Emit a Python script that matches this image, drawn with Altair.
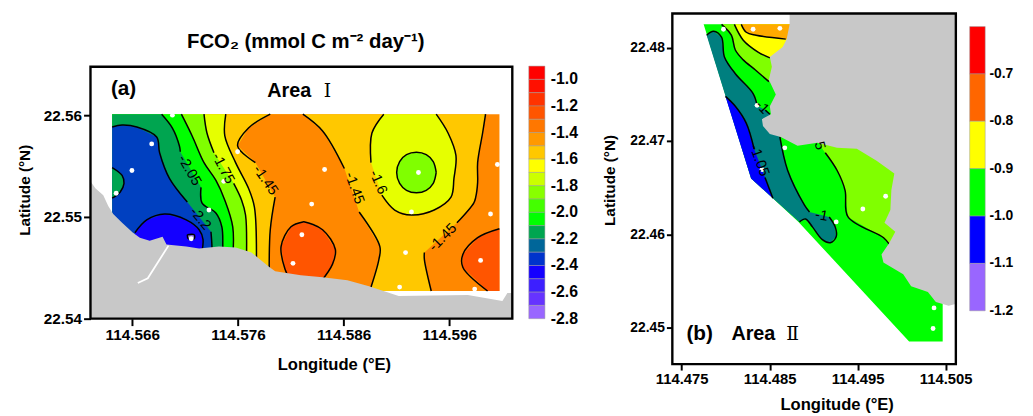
import altair as alt

FONT = "Liberation Sans"

# All curve values: (longitude offset, latitude offset), in units of 0.0001 degree
# Panel (a): offsets from 114.56 E / 22.54 N.  Panel (b): offsets from 114.47 E / 22.44 N.
A_LON0, A_LAT0 = 114.56, 22.54
B_LON0, B_LAT0 = 114.47, 22.44

# ---------- Panel (a) ----------
a_xlim = (20.5, 419.6)
a_ylim = (0.0, 300.0)
a_frame_top = 247.6
a_rect = [(41.0, 201.0), (407.4, 201.0), (407.4, 27.2), (41.0, 27.2)]
a_coast = [(20.5, 135.0), (25.1, 128.2), (32.6, 121.4), (37.3, 110.7), (42.0, 102.9), (50.4, 94.2),
           (60.7, 84.5), (67.2, 79.6), (76.5, 76.7), (88.7, 80.6), (92.4, 72.8), (111.1, 70.9),
           (123.3, 68.9), (142.0, 70.9), (157.9, 69.9), (172.8, 65.0), (188.7, 51.5), (195.2, 46.6),
           (219.5, 42.7), (240.1, 40.8), (263.5, 37.9), (284.0, 32.0), (312.1, 22.3), (377.5, 23.3),
           (410.2, 17.5), (414.9, 25.2), (419.6, 25.2), (419.6, 0.0), (20.5, 0.0)]
a_river = [(94.3, 71.8), (74.7, 39.8), (65.3, 35.0)]
a_c1a = [(41.0, 188.4), (50.4, 190.3), (64.4, 188.4), (83.1, 178.6), (85.9, 163.1), (95.2, 137.9), (112.1, 114.6)]
a_c1b = [(134.5, 85.4), (135.4, 71.8), (135.4, 60.0)]
a_c3a = [(87.8, 201.0), (98.0, 187.4), (104.6, 169.9), (105.5, 164.1)]
a_c3b = [(125.1, 129.1), (126.1, 113.6), (139.1, 103.9), (144.8, 90.3), (145.7, 71.8), (145.7, 60.0)]
a_c4 = [(106.5, 201.0), (116.7, 179.6), (127.9, 153.4), (139.2, 135.9), (147.6, 116.5), (155.1, 90.3), (155.1, 60.0)]
a_c5a = [(127.9, 201.0), (130.7, 182.5), (137.3, 163.1)]
a_c5b = [(156.0, 133.0), (163.5, 116.5), (167.2, 101.9), (168.1, 60.0)]
a_c6 = [(148.5, 201.0), (147.6, 179.6), (157.8, 153.4), (170.0, 128.2), (175.6, 109.7), (177.5, 55.0)]
a_c7a = [(190.6, 201.0), (170.0, 187.4), (159.7, 169.9), (176.5, 153.4)]
a_c7b = [(195.2, 119.4), (190.6, 87.4), (189.6, 45.0)]
a_c8 = [(209.3, 38.0), (204.6, 48.5), (200.8, 70.9), (210.2, 90.3), (221.4, 95.1), (223.3, 95.1),
        (240.1, 87.4), (252.2, 68.0), (249.4, 53.4), (238.2, 36.0)]
a_c9a = [(221.4, 201.0), (240.1, 184.5), (260.7, 147.6)]
a_c9b = [(274.7, 104.9), (294.3, 70.9), (293.4, 58.3), (284.0, 25.0)]
a_c10a = [(298.0, 201.0), (286.8, 182.5), (285.9, 153.4)]
a_c10b = [(296.2, 121.4), (308.3, 106.8), (324.2, 101.9), (345.7, 106.8), (361.6, 119.4), (364.4, 137.9),
          (366.3, 160.2), (358.8, 182.5), (347.6, 201.0)]
a_c11 = [(347.6, 143.7), (344.8, 133.0), (338.2, 126.2), (328.9, 123.8), (319.5, 126.2), (313.0, 133.0),
         (310.2, 143.7), (313.0, 154.4), (319.5, 161.2), (328.9, 163.6), (338.2, 161.2), (344.8, 154.4),
         (347.6, 143.7)]
a_c12a = [(394.3, 201.0), (391.5, 182.5), (386.8, 153.4), (386.8, 134.0), (385.0, 119.4), (383.1, 113.6), (367.2, 94.2)]
a_c12b = [(336.4, 65.0), (336.4, 58.3), (342.9, 27.2)]
a_c13 = [(407.4, 88.4), (386.8, 79.6), (372.8, 63.1), (372.8, 50.5), (396.2, 27.2)]
a_c2 = [(62.5, 84.5), (73.7, 97.1), (90.6, 102.9), (111.1, 97.1), (123.3, 87.4), (127.0, 77.7), (125.1, 62.0)]
a_dot = [(112.1, 82.5), (118.6, 82.5), (118.6, 78.6), (113.0, 78.6), (112.1, 82.5)]
a_patch = [(41.0, 148.5), (50.4, 140.8), (52.2, 133.0), (48.5, 124.3), (41.0, 118.4)]
a_points = [(98.0, 200.0), (78.4, 171.8), (59.7, 145.6), (44.8, 123.3), (146.6, 135.0), (159.7, 164.1),
            (132.6, 106.8), (115.8, 78.6), (220.5, 82.5), (212.1, 54.4), (242.0, 146.6), (330.8, 143.7),
            (405.5, 151.5), (229.8, 112.6), (324.2, 104.9), (399.0, 102.9), (318.6, 65.0), (389.6, 57.3),
            (313.0, 31.1), (384.0, 29.1)]
a_labels = [("-2.05", 114.0, 145.7, 60), ("-2.2", 124.2, 98.1, 50), ("-1.75", 145.7, 147.6, 62),
            ("-1.45", 185.9, 135.9, 55), ("-1.45", 270.0, 128.2, 70), ("-1.6", 292.4, 134.0, 66),
            ("-1.45", 354.1, 79.6, 315)]
a_texts = [("FCO\u2082 (mmol C m\u207b\u00b2 day\u207b\u00b9)", 224.2, 271.9, 0, 20.6),
           ("(a)", 51.8, 225.2, 0, 21), ("Area", 208.6, 223.3, 0, 20),
           ("Longitude (\u00b0E)", 251.3, -45.7, 0, 16.8), ("Latitude (\u00b0N)", -41.2, 126.2, 270, 15.5)]
a_numerals = [("\u2160", 244.7, 223.3, 0, 19)]

# ---------- Panel (b) ----------
b_xlim = (39.4, 361.6)
b_ylim = (61.2, 436.5)
b_sea = [(75.0, 424.8), (129.0, 259.9), (153.7, 238.8), (182.9, 213.4), (308.7, 85.5), (346.9, 85.5), (346.9, 424.8)]
b_l1 = [(95.3, 424.8), (106.5, 413.2), (111.0, 397.4), (120.0, 386.8), (133.5, 376.2), (149.2, 363.5)]
b_l2 = [(109.9, 424.8), (120.0, 407.9), (136.8, 395.2), (150.3, 388.9)]
b_l3 = [(117.7, 424.8), (123.4, 416.4), (134.6, 413.2), (168.3, 409.0)]
b_t1 = [(78.4, 413.2), (86.3, 417.4), (95.3, 411.1), (98.6, 390.0), (111.0, 372.0), (131.2, 350.8), (135.7, 338.2)]
b_t2 = [(145.0, 333.0), (150.3, 328.6)]
b_t3 = [(161.6, 304.3), (170.5, 268.4), (189.6, 231.4), (195.3, 224.0)]
b_t4 = [(217.7, 218.7), (224.5, 208.1), (225.6, 197.6), (218.9, 191.2), (209.9, 194.4), (198.6, 208.1),
        (190.8, 216.6), (184.0, 213.4)]
b_blue_a = [(99.8, 347.7), (111.0, 337.1), (123.4, 319.1), (132.3, 291.6)]
b_blue_b = [(144.7, 261.0), (153.7, 238.8)]
b_lime = [(213.2, 287.4), (226.7, 268.4), (235.7, 247.2), (239.1, 218.7), (279.5, 196.5), (286.3, 189.1)]
b_coast = [(172.8, 436.5), (172.8, 424.8), (169.4, 409.0), (164.9, 400.5), (150.3, 390.0), (152.6, 379.4),
           (149.2, 365.6), (157.1, 349.8), (150.3, 337.1), (151.5, 328.6), (141.3, 323.4), (142.5, 316.0),
           (150.3, 307.5), (162.7, 304.3), (181.8, 294.8), (204.3, 298.0), (226.7, 292.7), (249.2, 291.6),
           (271.7, 279.0), (291.9, 265.2), (288.5, 247.2), (287.4, 226.1), (280.7, 212.4), (293.0, 202.8),
           (286.3, 191.2), (277.3, 178.5), (279.5, 170.1), (302.0, 157.4), (311.0, 144.7), (330.1, 138.4),
           (339.1, 127.8), (353.7, 123.6), (361.6, 125.7), (361.6, 436.5)]
b_points = [(97.5, 419.6), (131.2, 419.6), (161.6, 420.6), (135.7, 338.2), (167.2, 292.7), (141.3, 269.4),
            (281.8, 240.9), (255.9, 227.2), (225.6, 213.4), (336.8, 121.4), (335.7, 99.3)]
b_labels = [("-1.05", 137.9, 279.0, 70), ("-1", 141.3, 336.0, 45), ("-1", 208.8, 219.8, 10), ("5", 206.5, 294.8, 75)]
b_texts = [("(b)", 70.5, 92.9, 0, 21), ("Area", 131.5, 92.9, 0, 20),
           ("Longitude (\u00b0E)", 226.7, 17.9, 0, 16.8), ("Latitude (\u00b0N)", -31.7, 257.8, 270, 15.5)]
b_numerals = [("\u2161", 176.2, 92.9, 0, 19)]

# ---------- Colour bars ----------
cb_a_edges = [-0.9, -1.0, -1.1, -1.2, -1.3, -1.4, -1.5, -1.6, -1.7, -1.8, -1.9, -2.0, -2.1, -2.2, -2.3, -2.4, -2.5, -2.6, -2.7, -2.8]
cb_a_colors = ["#FF0000", "#FF1000", "#FF3300", "#FF5500", "#FF7700", "#FF9900", "#FFC800", "#FFFF00", "#CCFF00", "#88FF00",
               "#44FF00", "#00FF00", "#00A550", "#006699", "#0033CC", "#1400FF", "#3D1FFF", "#6633FF", "#9966FF"]
cb_a_labels = [-1.0, -1.2, -1.4, -1.6, -1.8, -2.0, -2.2, -2.4, -2.6, -2.8]
cb_b_edges = [-0.6, -0.7, -0.8, -0.9, -1.0, -1.1, -1.2]
cb_b_colors = ["#FF0000", "#FF6600", "#FFFF00", "#00FF00", "#0000FF", "#9966FF"]
cb_b_labels = [-0.7, -0.8, -0.9, -1.0, -1.1, -1.2]


def feature(coords, color):
    return {"type": "Feature", "properties": {"c": color},
            "geometry": {"type": "Polygon", "coordinates": [[list(p) for p in coords + coords[:1]]]}}


def panel(lon0, lat0, xlim, ylim, kx, ky, w, h, bands, coast, lines, river, points, labels, texts, numerals,
          xticks, yticks, frame_top, fs_x, fs_y, tick):
    x0, x1 = lon0 + xlim[0] * 1e-4, lon0 + xlim[1] * 1e-4
    y0, y1 = lat0 + ylim[0] * 1e-4, lat0 + ylim[1] * 1e-4

    def geo(pts):
        return [((lon0 + a * 1e-4 - x0) * kx, (y1 - (lat0 + b * 1e-4)) * ky) for a, b in pts]

    axis_common = dict(domain=False, grid=False, ticks=True, tickSize=tick, tickWidth=2, tickColor="black",
                       labelFont=FONT, labelFontWeight="bold", labelColor="black", labelPadding=2,
                       labelOverlap=False, labelFlush=False, title=None)
    X = alt.X("lon:Q", scale=alt.Scale(domain=[x0, x1], nice=False, zero=False),
              axis=alt.Axis(values=xticks, format=".3f", labelFontSize=fs_x, **axis_common))
    Y = alt.Y("lat:Q", scale=alt.Scale(domain=[y0, y1], nice=False, zero=False),
              axis=alt.Axis(values=yticks, format=".2f", labelFontSize=fs_y, **axis_common))
    proj = alt.Projection(type="identity", scale=1, translate=[0, 0])

    def rows(pts):
        return [{"lon": lon0 + a * 1e-4, "lat": lat0 + b * 1e-4} for a, b in pts]

    band_feats = [feature(geo(p), c) for p, c in bands]
    layer_bands = alt.Chart(alt.Data(values=band_feats)).mark_geoshape(strokeWidth=0).encode(
        color=alt.Color("properties.c:N", scale=None)).project(**proj.to_dict())
    line_rows = []
    for s, pts in enumerate(lines):
        for i, (a, b) in enumerate(pts):
            line_rows.append({"lon": lon0 + a * 1e-4, "lat": lat0 + b * 1e-4, "s": s, "i": i})
    layer_lines = alt.Chart(alt.Data(values=line_rows)).mark_line(
        color="black", strokeWidth=1.5, interpolate="catmull-rom").encode(
        x=X, y=Y, detail="s:N", order=alt.Order("i:Q"))
    layer_coast = alt.Chart(alt.Data(values=[feature(geo(coast), "#C8C8C8")])).mark_geoshape(strokeWidth=0).encode(
        color=alt.Color("properties.c:N", scale=None)).project(**proj.to_dict())
    parts = [layer_bands, layer_lines, layer_coast]
    if river:
        parts.append(alt.Chart(alt.Data(values=[dict(r, i=i) for i, r in enumerate(rows(river))])).mark_line(
            color="white", strokeWidth=1.8).encode(x=X, y=Y, order=alt.Order("i:Q")))
    frame = alt.Chart(alt.Data(values=[{"lon": x0, "lon2": x1, "lat": y0, "lat2": lat0 + frame_top * 1e-4}])).mark_rect(
        filled=False, stroke="black", strokeWidth=2.4).encode(x=X, x2="lon2:Q", y=Y, y2="lat2:Q")
    parts.append(frame)
    parts.append(alt.Chart(alt.Data(values=rows(points))).mark_point(
        filled=True, color="white", opacity=1, size=24).encode(x=X, y=Y))
    lab_rows = [{"t": t, "lon": lon0 + a * 1e-4, "lat": lat0 + b * 1e-4, "ang": g} for t, a, b, g in labels]
    parts.append(alt.Chart(alt.Data(values=lab_rows)).mark_text(
        font=FONT, fontSize=14.5, color="black", align="center", baseline="middle").encode(
        x=X, y=Y, text="t:N", angle=alt.Angle("ang:Q", scale=None)))
    txt_rows = [{"t": t, "lon": lon0 + a * 1e-4, "lat": lat0 + b * 1e-4, "ang": g, "fs": s} for t, a, b, g, s in texts]
    parts.append(alt.Chart(alt.Data(values=txt_rows)).mark_text(
        font=FONT, fontWeight="bold", color="black", align="center", baseline="middle").encode(
        x=X, y=Y, text="t:N", angle=alt.Angle("ang:Q", scale=None), size=alt.Size("fs:Q", scale=None)))
    num_rows = [{"t": t, "lon": lon0 + a * 1e-4, "lat": lat0 + b * 1e-4, "fs": s} for t, a, b, g, s in numerals]
    parts.append(alt.Chart(alt.Data(values=num_rows)).mark_text(
        font="DejaVu Serif", color="black", align="center", baseline="middle").encode(
        x=X, y=Y, text="t:N", size=alt.Size("fs:Q", scale=None)))
    return alt.layer(*parts).properties(width=w, height=h)


def colorbar(edges, colors, labels, w, h, top, bottom, x_a, x_b, x_t, fs):
    # domain extended so that the bar starts below the panel's top edge
    vmin, vmax = edges[-1], edges[0]
    per = (bottom - top) / (vmax - vmin)
    dom_max = vmin + bottom / per
    Y = alt.Y("hi:Q", scale=alt.Scale(domain=[vmin, dom_max], nice=False, zero=False), axis=None)
    cells = [{"hi": edges[i], "lo": edges[i + 1], "c": colors[i]} for i in range(len(colors))]
    bars = alt.Chart(alt.Data(values=cells)).mark_rect(stroke="#999999", strokeWidth=0.5).encode(
        x=alt.value(x_a), x2=alt.value(x_b), y=Y, y2="lo:Q", fill=alt.Fill("c:N", scale=None))
    txt = [{"hi": v, "t": f"{v:.1f}"} for v in labels]
    text = alt.Chart(alt.Data(values=txt)).mark_text(
        font=FONT, fontWeight="bold", fontSize=fs, color="black", align="left", baseline="middle").encode(
        x=alt.value(x_t), y=Y, text="t:N")
    return alt.layer(bars, text).properties(width=w, height=h)


# painter's order: each band covers everything on its low side
a_bands = [
    (a_rect, "#FF8800"),
    (a_c12a + a_c12b + [(41.0, 27.2), (41.0, 201.0)], "#FFC800"),
    (a_c9a + a_c9b + [(41.0, 25.0), (41.0, 201.0)], "#FF8800"),
    (a_c7a + a_c7b + [(41.0, 45.0), (41.0, 201.0)], "#FFC800"),
    (a_c6 + [(41.0, 55.0), (41.0, 201.0)], "#E6FF00"),
    (a_c5a + a_c5b + [(41.0, 60.0), (41.0, 201.0)], "#80FF00"),
    (a_c4 + [(41.0, 60.0), (41.0, 201.0)], "#00FF00"),
    (a_c3a + a_c3b + [(41.0, 60.0), (41.0, 201.0)], "#00A550"),
    (a_c1a + a_c1b + [(41.0, 60.0)], "#0040C0"),
    (a_patch, "#00A550"),
    (a_c2 + [(62.5, 62.0)], "#1400FF"),
    (a_dot, "#8A6BE0"),
    (a_c8, "#FF5500"),
    (a_c10a + a_c10b, "#E6FF00"),
    (a_c11, "#80FF00"),
    (a_c13 + [(407.4, 27.2)], "#FF5500"),
]
a_lines = [a_c1a, a_c1b, a_c3a, a_c3b, a_c4, a_c5a, a_c5b, a_c6, a_c7a, a_c7b, a_c8, a_c9a, a_c9b,
           a_c10a, a_c10b, a_c11, a_c12a, a_c12b, a_c13, a_c2, a_dot, a_patch]

b_bands = [
    (b_sea, "#00FF00"),
    (b_l1 + [(181.8, 363.5), (181.8, 424.8)], "#80FF00"),
    (b_l2 + [(181.8, 388.9), (181.8, 424.8)], "#FFFF00"),
    (b_l3 + [(181.8, 409.0), (181.8, 424.8)], "#FFAA00"),
    (b_t1 + b_t2 + b_t3 + b_t4 + [(153.7, 238.8), (129.0, 259.9)], "#007F7F"),
    (b_blue_a + b_blue_b + [(129.0, 259.9)], "#0000FF"),
    (b_lime + [(345.0, 189.1), (345.0, 300.0), (207.6, 300.0), (207.6, 294.8)], "#80FF00"),
]
b_lines = [b_l1, b_l2, b_l3, b_t1, b_t2, b_t3, b_t4, b_blue_a, b_blue_b, b_lime]

panel_a = panel(A_LON0, A_LAT0, a_xlim, a_ylim, 10700, 10300, 427, 309, a_bands, a_coast, a_lines, a_river,
                a_points, a_labels, a_texts, a_numerals, [114.566, 114.576, 114.586, 114.596], [22.54, 22.55, 22.56],
                a_frame_top, 15.5, 15.5, 7)
panel_b = panel(B_LON0, B_LAT0, b_xlim, b_ylim, 8900, 9460, 287, 355, b_bands, b_coast, b_lines, None,
                b_points, b_labels, b_texts, b_numerals, [114.475, 114.485, 114.495, 114.505], [22.45, 22.46, 22.47, 22.48],
                b_ylim[1], 15, 14, 6)
bar_a = colorbar(cb_a_edges, cb_a_colors, cb_a_labels, 162, 309, 53.3, 309, 16.7, 33, 39, 16)
bar_b = colorbar(cb_b_edges, cb_b_colors, cb_b_labels, 70, 301, 13.3, 301.3, 14, 29.7, 34, 14)

chart = alt.hconcat(panel_a, bar_a, panel_b, bar_b, spacing=0, bounds="flush").properties(
    padding={"left": 9.5, "top": 1, "right": 0, "bottom": 0}, background="white"
).configure_view(strokeWidth=0)

chart.save("out.html", embed_options={"renderer": "svg", "actions": False})
